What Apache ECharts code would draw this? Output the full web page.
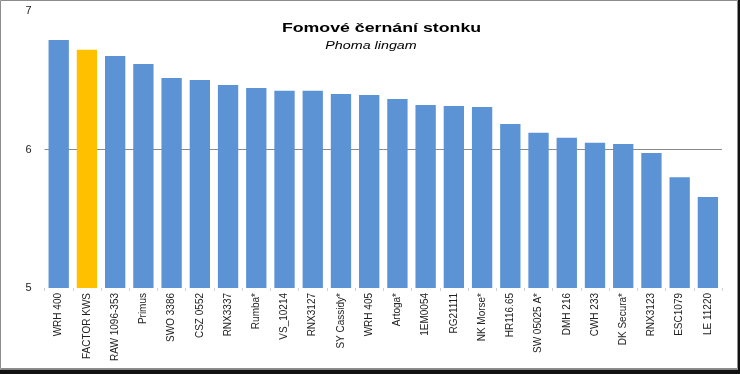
<!DOCTYPE html>
<html>
<head>
<meta charset="utf-8">
<script src="https://cdn.jsdelivr.net/npm/echarts@6/dist/echarts.min.js"></script>
<style>
html,body{margin:0;padding:0;background:#fff;}
#c{width:740px;height:374px;}
</style>
</head>
<body>
<div id="c"></div>
<script>
const titleText = 'Fomové černání stonku';
const subtitleText = 'Phoma lingam';
const categories = ['WRH 400','FACTOR KWS','RAW 1096-353','Primus','SWO 3386','CSZ 0552','RNX3337','Rumba*','VS_10214','RNX3127','SY Cassidy*','WRH 405','Artoga*','1EM0054','RG21111','NK Morse*','HR116.65','SW 05025 A*','DMH 216','CWH 233','DK Secura*','RNX3123','ESC1079','LE 11220'];
const values = [6.79,6.72,6.675,6.617,6.516,6.502,6.466,6.444,6.425,6.425,6.40,6.393,6.365,6.321,6.314,6.307,6.184,6.121,6.085,6.049,6.040,5.975,5.80,5.657];
const highlighted = ['FACTOR KWS'];
const yTicks = [5,6,7];

const blue = '#5B93D5';
const yellow = '#FFC000';

const chart = echarts.init(document.getElementById('c'), null, {renderer:'canvas'});
chart.setOption({
  animation:false,
  backgroundColor:'#fff',
  grid:{left:44.6,right:18,top:11,bottom:86,containLabel:false},
  xAxis:{
    type:'category',
    data:categories,
    axisLine:{show:false},
    axisTick:{show:true,length:3,lineStyle:{color:'#d0d0d0'}},
    axisLabel:{rotate:90,margin:5,fontFamily:'Liberation Sans, Arial, sans-serif',fontSize:10,color:'#222',interval:0}
  },
  yAxis:{
    type:'value',min:yTicks[0],max:yTicks[yTicks.length-1],interval:1,
    axisLine:{show:false},
    axisTick:{show:false},
    axisLabel:{margin:13,fontFamily:'Liberation Sans, Arial, sans-serif',fontSize:11,color:'#222'},
    splitLine:{show:true,lineStyle:{color:['rgba(0,0,0,0)','#8a8a8a','rgba(0,0,0,0)'],width:1}}
  },
  series:[{
    type:'bar',
    barCategoryGap:'28%',
    data:values.map((v,i)=>({value:v,itemStyle:{color:highlighted.includes(categories[i])?yellow:blue}}))
  }],
  graphic:[
    {type:'rect',z:-1,silent:true,shape:{x:0.5,y:0.5,width:737,height:368},style:{fill:'none',stroke:'#8c8c8c',lineWidth:1}},
    {type:'rect',silent:true,shape:{x:738,y:0,width:2,height:374},style:{fill:'#111'}},
    {type:'rect',silent:true,shape:{x:0,y:369.5,width:740,height:4.5},style:{fill:'#111'}},
    {type:'text',silent:true,x:381.5,y:29,scaleX:1.42,style:{text:titleText,font:'bold 12.5px "Liberation Sans", Arial, sans-serif',fill:'#000',align:'center',verticalAlign:'middle'}},
    {type:'text',silent:true,x:371,y:46,scaleX:1.3,style:{text:subtitleText,font:'italic 11px "Liberation Sans", Arial, sans-serif',fill:'#000',align:'center',verticalAlign:'middle'}}
  ]
});
</script>
</body>
</html>
